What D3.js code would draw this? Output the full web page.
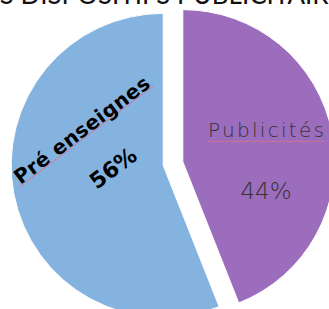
<!DOCTYPE html>
<html>
<head>
<meta charset="utf-8">
<script src="https://cdn.jsdelivr.net/npm/d3@7/dist/d3.min.js"></script>
<style>
  html, body { margin: 0; padding: 0; background: #fff; }
  svg { display: block; }
</style>
</head>
<body>
<svg id="chart" width="329" height="309"></svg>
<script>
// data
const categories = ["Publicités", "Pré enseignes"]
const values = [44, 56]
const colors = ["#9b6dbc", "#85b3df"]
const title = "LES DISPOSITIFS PUBLICITAIRES"

const width = 329
const height = 309
const cx = 173
const cy = 163.5
const radius = 152
const explode = 10

const svg = d3.select("#chart")

// title, mostly off the top edge like the reference
svg.append("text")
    .attr("x", width / 2)
    .attr("y", 4)
    .attr("text-anchor", "middle")
    .attr("font-family", "Lato, 'DejaVu Sans', sans-serif")
    .attr("font-size", 26)
    .attr("fill", "#111")
    .text(title)

const pie = d3.pie().sort(null).value(d => d)
const arc = d3.arc().innerRadius(0).outerRadius(radius)
const slices = pie(values)

const g = svg.append("g")
    .attr("transform", `translate(${cx},${cy})`)

g.selectAll("path.slice")
  .data(slices)
  .enter()
  .append("path")
    .classed("slice", true)
    .attr("d", arc)
    .attr("fill", (d, i) => colors[i])
    .attr("stroke", "#fff")
    .attr("stroke-width", 1)
    .attr("transform", d => {
      const mid = (d.startAngle + d.endAngle) / 2
      return `translate(${Math.sin(mid) * explode},${-Math.cos(mid) * explode})`
    })

// Publicités label (plain, light)
const pub = g.append("g").attr("transform", "translate(93,-27)")
pub.append("line")
    .attr("x1", -58).attr("x2", 58)
    .attr("y1", 5).attr("y2", 5)
    .attr("stroke", "#e07080").attr("stroke-width", 0.8)
pub.append("text")
    .attr("text-anchor", "middle")
    .attr("font-family", "'DejaVu Sans', sans-serif")
    .attr("font-weight", 200)
    .attr("font-size", 20)
    .attr("fill", "#333")
    .attr("textLength", 116)
    .text(categories[0])
pub.append("text")
    .attr("y", 62)
    .attr("text-anchor", "middle")
    .attr("font-family", "'DejaVu Sans', sans-serif")
    .attr("font-weight", 200)
    .attr("font-size", 23)
    .attr("fill", "#333")
    .text(values[0] + "%")

// Pré enseignes label (bold, rotated)
const pre = g.append("g").attr("transform", "translate(-87,-28) rotate(-37)")
pre.append("line")
    .attr("x1", -84).attr("x2", 84)
    .attr("y1", 1).attr("y2", 1)
    .attr("stroke", "#e07080").attr("stroke-width", 0.8)
pre.append("text")
    .attr("text-anchor", "middle")
    .attr("font-family", "'DejaVu Sans', sans-serif")
    .attr("font-weight", 700)
    .attr("font-size", 20)
    .attr("textLength", 164)
    .attr("fill", "#000")
    .text(categories[1])
pre.append("text")
    .attr("x", 2)
    .attr("y", 50)
    .attr("text-anchor", "middle")
    .attr("font-family", "'DejaVu Sans', sans-serif")
    .attr("font-weight", 700)
    .attr("font-size", 22)
    .attr("fill", "#000")
    .text(values[1] + "%")
</script>
</body>
</html>
